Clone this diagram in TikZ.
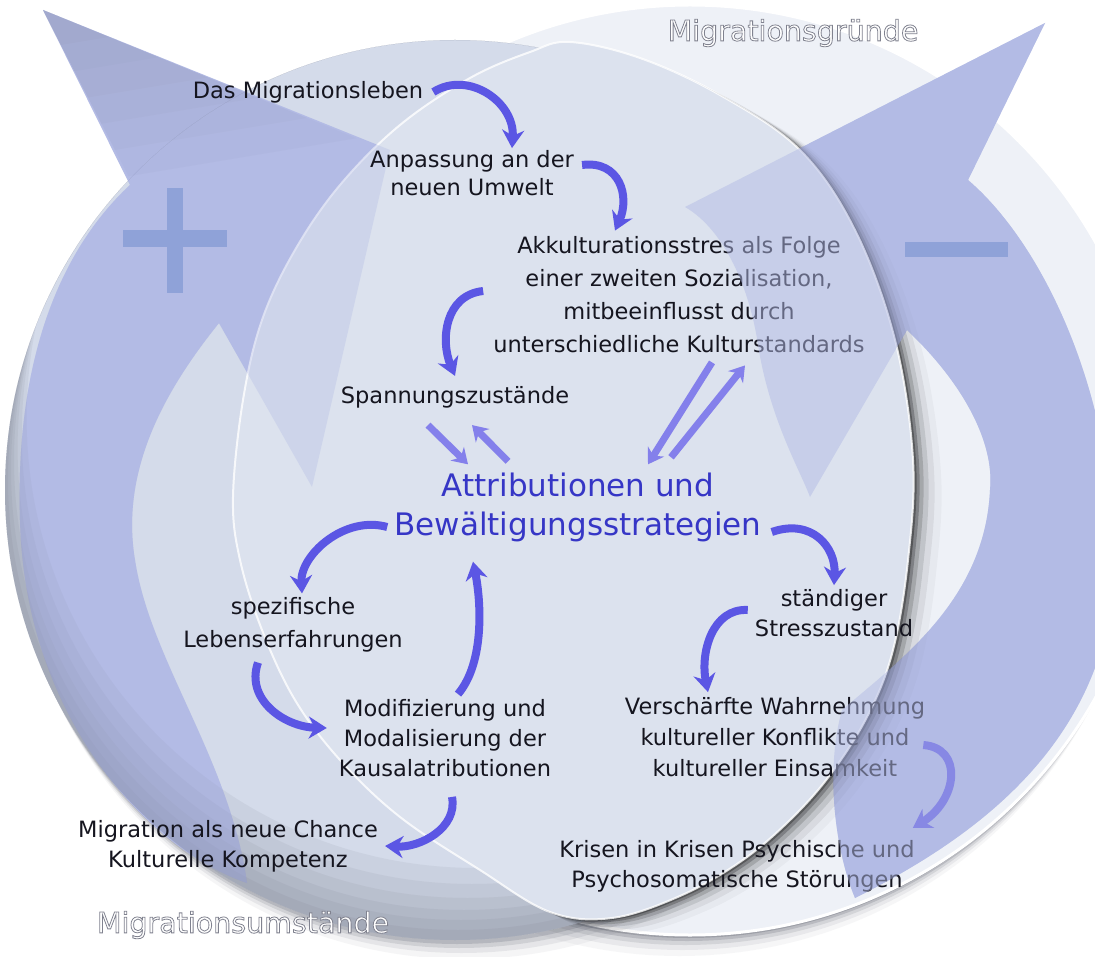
\documentclass[tikz,border=0pt]{standalone}
\usepackage{fontspec}
\setmainfont{DejaVu Sans}
\usetikzlibrary{arrows.meta}

\definecolor{palegrey}{HTML}{D4DBEA}
\definecolor{lavender}{HTML}{B3BBE5}
\definecolor{discblue}{HTML}{DCE2EE}
\definecolor{lightdisc}{HTML}{EEF1F7}
\definecolor{textdark}{HTML}{15151F}
\definecolor{titleblue}{HTML}{3636C6}
\definecolor{swooshblue}{HTML}{5B56E4}
\definecolor{signblue}{HTML}{8FA2D8}
\definecolor{shadowgrey}{HTML}{5E6270}

\tikzset{
  lbl/.style={font=\fontsize{22.5}{30}\selectfont, text=textdark, align=center, inner sep=2pt},
  titlelbl/.style={font=\fontsize{31}{39}\selectfont, text=titleblue, align=center, inner sep=2pt},
  headline/.style={font=\fontsize{28.5}{34}\selectfont, text=white, inner sep=0pt},
  swoosh/.style={line width=8pt, draw=swooshblue, -{Stealth[length=18pt,width=22pt]}},
  pair/.style={line width=7pt, draw=swooshblue!75, -{Stealth[length=15pt,width=19pt]}},
}

%% white title with a grey rim (fill, then stroke)
\newcommand{\embossed}[1]{\special{pdf:literal direct 2 Tr 0.8 w 0.5 0.51 0.56 RG}#1\special{pdf:literal direct 0 Tr}}

%% shapes in pixel coordinates, y pointing down
\def\middisc{plot[smooth cycle, tension=.6] coordinates {(233,497) (243,400) (262,320) (295,250) (340,185) (400,125) (470,78) (530,52) (570,42) (640,58) (720,95) (800,150) (855,230) (895,340) (913,460) (908,560) (893,650) (868,715) (830,775) (788,822) (740,862) (680,896) (612,918) (550,912) (480,870) (400,817) (340,760) (295,700) (262,630) (240,560)}}
\def\plusarrow{(43,10) -- (390,150) -- (312,487) -- (219,323) .. controls (165,390) and (120,470) .. (135,560) .. controls (150,660) and (230,760) .. (247,883) .. controls (150,850) and (25,720) .. (20,520) .. controls (15,360) and (60,250) .. (130,185) -- cycle}
\def\minusarrow{(1045,23) -- (685,207) .. controls (725,230) and (750,290) .. (758,345) .. controls (770,420) and (800,470) .. (810,497) -- (907,330) .. controls (960,380) and (995,440) .. (990,490) .. controls (985,600) and (900,660) .. (842,710) .. controls (825,770) and (835,850) .. (855,898) .. controls (960,845) and (1090,760) .. (1112,600) .. controls (1125,420) and (1050,250) .. (968,180) -- cycle}

\begin{document}
\begin{tikzpicture}[x=1pt, y=-1pt]
  \useasboundingbox (0,0) rectangle (1095,957);
  \clip (0,0) rectangle (1095,957);
  \fill[white] (0,0) rectangle (1095,957);

  %% right disc
  \foreach \s/\o in {3/.3,6/.22,10/.15,15/.09,21/.05}
    \fill[shadowgrey, opacity=\o] ([shift={(-\s/2,\s)}]690,470) circle[radius=465];
  \fill[lightdisc] (690,470) circle[radius=465];
  \draw[white, line width=3pt] (690,470) circle[radius=465];

  %% left disc
  \foreach \s/\o in {4/.22,8/.16,13/.1,19/.06}
    \fill[shadowgrey, opacity=\o] ([shift={(\s/2,\s)}]455,490) circle[radius=450];
  \fill[palegrey] (455,490) circle[radius=450];

  %% plus arrow
  \fill[lavender] \plusarrow;
  \foreach \f in {.2,.35,.5,.65,.8,.95}
    \fill[shadowgrey, opacity=.05] (43,10) -- ++(\f*330,\f*135) -- ++(-\f*240,\f*40) -- cycle;
  \begin{scope}
    \clip (455,490) circle[radius=450];
    \foreach \s in {10,20,30,42,56,72}
      \fill[shadowgrey, opacity=.08, even odd rule] (455,490) circle[radius=450] ([shift={(0.3*\s,-\s)}]455,490) circle[radius=450];
  \end{scope}

  %% minus arrow
  \fill[lavender] \minusarrow;

  %% middle disc
  \foreach \s/\o in {3/.3,6/.22,10/.15,15/.1,21/.06,28/.03}
    \fill[black, opacity=\o, xshift=\s, yshift=-0.5*\s] \middisc;
  \fill[discblue] \middisc;
  \draw[white, line width=2pt, opacity=.8] \middisc;
  \fill[lavender, opacity=.35] \plusarrow;

  %% signs
  \fill[signblue] (123,230) rectangle (227,247);
  \fill[signblue] (167,188) rectangle (183,293);

  %% labels
  \node[lbl] (leben) at (308,92) {Das Migrationsleben};
  \node[lbl, font=\fontsize{22.5}{28}\selectfont] (anpassung) at (472,173) {Anpassung an der\\neuen Umwelt};
  \node[lbl, font=\fontsize{22.5}{33}\selectfont] (akk) at (679,295) {Akkulturationsstres als Folge\\einer zweiten Sozialisation,\\mitbeeinflusst durch\\unterschiedliche Kulturstandards};
  \node[lbl] (spannung) at (455,397) {Spannungszustände};
  \node[titlelbl] (attr) at (578,507) {Attributionen und\\Bewältigungsstrategien};
  \node[lbl, font=\fontsize{22.5}{33}\selectfont] (spez) at (293,625) {spezifische\\Lebenserfahrungen};
  \node[lbl] (modi) at (445,738) {Modifizierung und\\Modalisierung der\\Kausalatributionen};
  \node[lbl] (staendig) at (834,613) {ständiger\\Stresszustand};
  \node[lbl, font=\fontsize{22.5}{31}\selectfont] (versch) at (775,737) {Verschärfte Wahrnehmung\\kultureller Konflikte und\\kultureller Einsamkeit};
  \node[lbl] (krisen) at (737,866) {Krisen in Krisen Psychische und\\Psychosomatische Störungen};
  \node[lbl] (chance) at (228,846) {Migration als neue Chance\\Kulturelle Kompetenz};
  \node[headline] (gruende) at (793,33) {\embossed{Migrationsgründe}};
  \node[headline] (umst) at (243,925) {\embossed{Migrationsumstände}};

  %% swooshes
  \draw[swoosh] ([xshift=8pt]leben.east) .. controls +(35,-22) and +(3,-46) .. ([xshift=40pt]anpassung.north);
  \draw[swoosh] ([xshift=6pt,yshift=8pt]anpassung.east) .. controls +(38,-5) and +(15,-34) .. ([xshift=-64pt,yshift=4pt]akk.north);
  \draw[swoosh] ([xshift=-8pt,yshift=4pt]akk.west) .. controls +(-38,4) and +(-15,-36) .. ([yshift=8pt]spannung.north);
  \draw[pair] ([xshift=-27pt,yshift=-15pt]spannung.south) -- ([xshift=-110pt,yshift=6pt]attr.north);
  \draw[pair] ([xshift=-70pt,yshift=9pt]attr.north) -- ([xshift=17pt,yshift=-15pt]spannung.south);
  \draw[pair] ([xshift=33pt,yshift=-7pt]akk.south) -- ([xshift=70pt,yshift=6pt]attr.north);
  \draw[pair] ([xshift=93pt,yshift=13pt]attr.north) -- ([xshift=66pt,yshift=-10pt]akk.south);
  \draw[swoosh] ([xshift=-5pt,yshift=-20pt]attr.west) .. controls +(-43,-12) and +(-2,-38) .. ([xshift=9pt,yshift=2pt]spez.north);
  \draw[swoosh] ([xshift=8pt,yshift=-25pt]attr.east) .. controls +(40,-14) and +(2,-38) .. ([yshift=2pt]staendig.north);
  \draw[swoosh] ([xshift=-5pt,yshift=3pt]staendig.west) .. controls +(-35,-2) and +(-8,-40) .. ([xshift=-67pt,yshift=3pt]versch.north);
  \draw[swoosh] ([xshift=-35pt,yshift=-8pt]spez.south) .. controls +(-13,37) and +(-42,-1) .. ([xshift=-10pt,yshift=10pt]modi.west);
  \draw[swoosh] ([xshift=13pt,yshift=3pt]modi.north) .. controls +(27,-32) and +(8,39) .. ([xshift=-105pt,yshift=-18pt]attr.south);
  \draw[swoosh] ([xshift=7pt,yshift=-18pt]modi.south) .. controls +(6,31) and +(35,2) .. ([xshift=5pt]chance.east);
  \draw[swoosh] ([xshift=-4pt,yshift=-8pt]versch.east) .. controls +(40,3) and +(45,-28) .. ([xshift=-4pt,yshift=10pt]krisen.north east);

  %% minus arrow over the text
  \fill[lavender, opacity=.5] \minusarrow;
  \fill[signblue] (905,242) rectangle (1008,257);
\end{tikzpicture}
\end{document}
